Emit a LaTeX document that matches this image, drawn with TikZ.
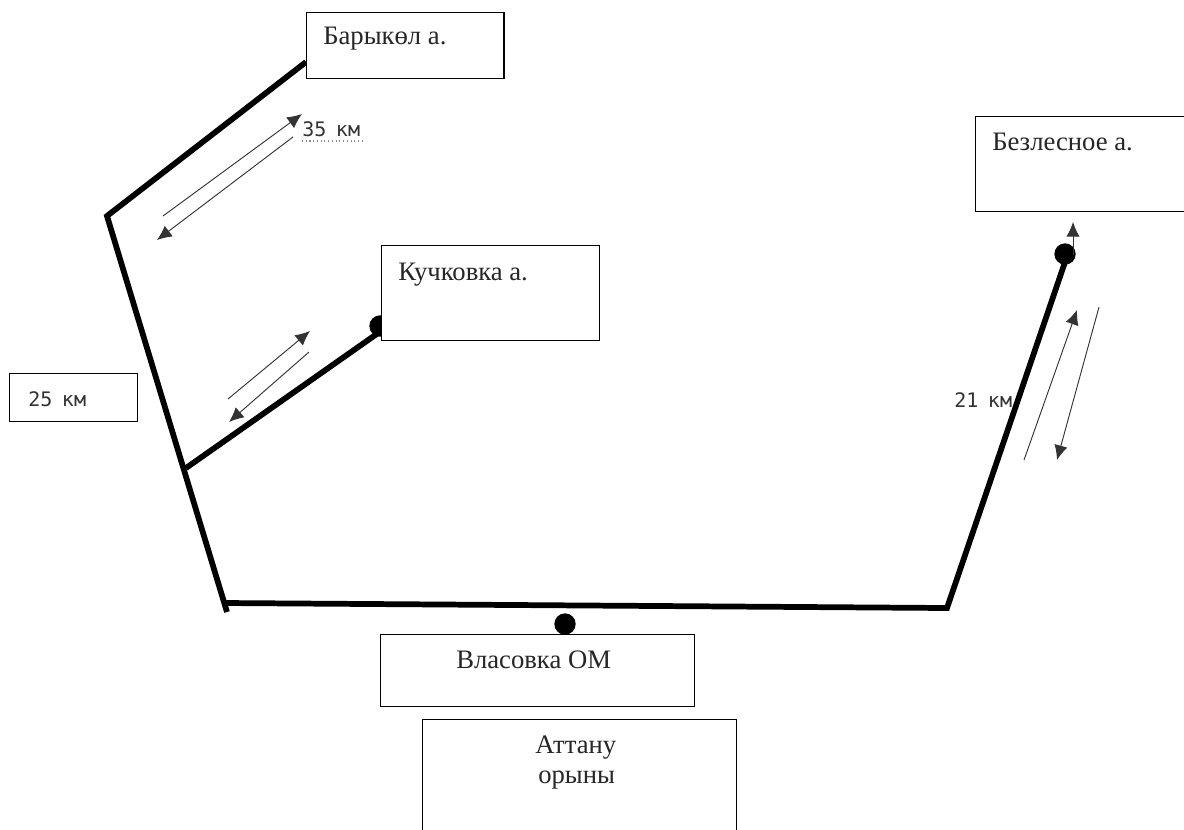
\documentclass[tikz,border=0pt]{standalone}
\usepackage{fontspec}
\setmainfont{Liberation Serif}
\newfontfamily\kmfont[WordSpace=0.8]{DejaVu Sans Mono}
\usetikzlibrary{arrows.meta}
\tikzset{
  placebox/.style={draw, line width=1pt, fill=white, inner sep=0pt, anchor=north west},
  placetext/.style={anchor=base west, inner sep=0pt, font=\fontsize{20pt}{24pt}\selectfont, text=black!85},
  kmtext/.style={anchor=base west, inner sep=0pt, font=\kmfont\fontsize{15pt}{18pt}\selectfont, text=black!80},
  road/.style={line width=4.3pt},
  way/.style={line width=0.7pt, black!80},
  tip/.style={-{Latex[length=11pt,width=10pt]}},
  stopdot/.style={circle, fill=black, inner sep=0pt, minimum size=16pt}
}
\begin{document}
\begin{tikzpicture}[x=0.75pt, y=-0.75pt]
    \useasboundingbox (0,0) rectangle (1184,829);
    \clip (0,0) rectangle (1184,829);
    % Road
    \coordinate (barykolend) at (306,62);
    \coordinate (north) at (107,216);
    \coordinate (fork) at (186,468);
    \coordinate (south) at (227,612);
    \coordinate (west) at (224,603);
    \coordinate (east) at (947,608);
    \coordinate (bezlesnoeend) at (1065,262);
    \coordinate (kuchkovkaend) at (381,331);
    \draw[road] (barykolend) -- (north) -- (south);
    \draw[road] (west) -- (east) -- (bezlesnoeend);
    \draw[road] (fork) -- (kuchkovkaend);
    % Stops
    \node[stopdot] (kuchkovkadot) at (380,326) {};
    \node[stopdot] (bezlesnoedot) at (1065,254) {};
    \node[stopdot] (vlasovkadot) at (565,624) {};
    % Boxes
    \node[placebox, minimum width=148pt, minimum height=49.5pt] (barykol) at (306,12) {};
    \node[placebox, minimum width=163.5pt, minimum height=71.25pt] (kuchkovka) at (381,245) {};
    \node[placebox, minimum width=165pt, minimum height=71.25pt] (bezlesnoe) at (975,116) {};
    \node[placebox, minimum width=235.5pt, minimum height=54pt] (vlasovka) at (380,634) {};
    \node[placebox, minimum width=235.5pt, minimum height=90pt] (attanu) at (422,719) {};
    \node[placebox, minimum width=96pt, minimum height=36pt] (kmbox) at (9,373) {};
    % Place names
    \node[placetext] (barykoltext) at (323,44) {Барыкөл а.};
    \node[placetext] (kuchkovkatext) at (398,280) {Кучковка а.};
    \node[placetext] (bezlesnoetext) at (992,150) {Безлесное а.};
    \node[placetext] (vlasovkatext) at (456,668) {Власовка ОМ};
    \node[placetext] (attanutext) at (535,753) {Аттану};
    \node[placetext] (orynytext) at (538,783) {орыны};
    % Distances
    \node[kmtext] (kmone) at (302,136) {35 км};
    \node[kmtext] (kmtwo) at (28,406) {25 км};
    \node[kmtext] (kmthree) at (954,407) {21 км};
    \coordinate (dotleft) at (302,141);
    \coordinate (dotright) at (365,141);
    \draw[dotted, thick, black!45] (dotleft) -- (dotright);
    % Direction arrows
    \coordinate (aone) at (163,216);
    \coordinate (atwo) at (302,114);
    \coordinate (bone) at (293,137);
    \coordinate (btwo) at (157,240);
    \coordinate (cone) at (228,399);
    \coordinate (ctwo) at (310,331);
    \coordinate (done) at (309,352);
    \coordinate (dtwo) at (229,422);
    \coordinate (eone) at (1024,460);
    \coordinate (etwo) at (1077,310);
    \coordinate (fone) at (1099,307);
    \coordinate (ftwo) at (1057,460);
    \coordinate (gone) at (1073,255);
    \coordinate (gtwo) at (1073,222);
    \draw[way, tip] (aone) -- (atwo);
    \draw[way, tip] (bone) -- (btwo);
    \draw[way, tip] (cone) -- (ctwo);
    \draw[way, tip] (done) -- (dtwo);
    \draw[way, tip] (eone) -- (etwo);
    \draw[way, tip] (fone) -- (ftwo);
    \draw[way, tip] (gone) -- (gtwo);
\end{tikzpicture}
\end{document}
